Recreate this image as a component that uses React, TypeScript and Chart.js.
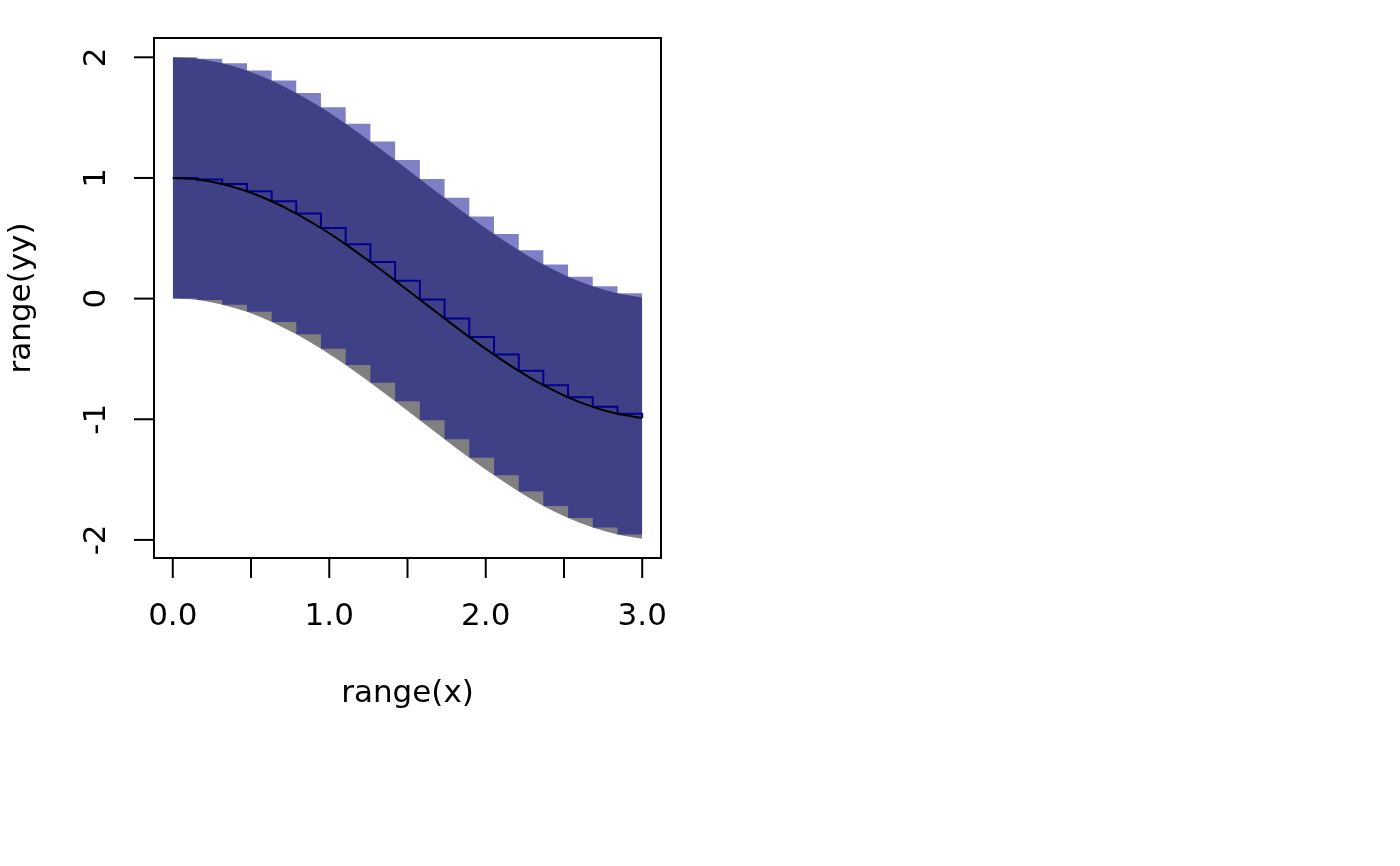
import React, { useEffect, useRef } from 'react';
import { Chart, registerables } from 'chart.js';

Chart.register(...registerables);

// sample positions (20 points from 0 to 3)
const xs = [0, 0.158, 0.316, 0.474, 0.632, 0.789, 0.947, 1.105, 1.263, 1.421,
  1.579, 1.737, 1.895, 2.053, 2.211, 2.368, 2.526, 2.684, 2.842, 3.0];
// centre curve values
const yMid = [1.0, 0.988, 0.95, 0.89, 0.807, 0.705, 0.585, 0.45, 0.303, 0.149,
  -0.008, -0.165, -0.319, -0.464, -0.599, -0.718, -0.818, -0.897, -0.955, -0.99];
const yUpper = [2.0, 1.988, 1.95, 1.89, 1.807, 1.705, 1.585, 1.45, 1.303, 1.149,
  0.992, 0.835, 0.681, 0.536, 0.401, 0.282, 0.182, 0.103, 0.045, 0.01];
const yLower = [0.0, -0.012, -0.05, -0.11, -0.193, -0.295, -0.415, -0.55, -0.697, -0.851,
  -1.008, -1.165, -1.319, -1.464, -1.599, -1.718, -1.818, -1.897, -1.955, -1.99];

const xTicks = [0, 0.5, 1, 1.5, 2, 2.5, 3];
const xTickLabels = ['0.0', '', '1.0', '', '2.0', '', '3.0'];
const yTicks = [-2, -1, 0, 1, 2];
const yTickLabels = ['-2', '-1', '0', '1', '2'];

const FONT = '"DejaVu Sans", sans-serif';

const pts = (ys: number[]) => xs.map((x, i) => ({ x, y: ys[i] }));

const rAxes = {
  id: 'rAxes',
  afterDraw(chart: any) {
    const { ctx, chartArea: a, scales } = chart;
    const sx = scales.x;
    const sy = scales.y;
    ctx.save();
    ctx.strokeStyle = '#000';
    ctx.lineWidth = 2;
    ctx.strokeRect(a.left, a.top, a.right - a.left, a.bottom - a.top);
    ctx.fillStyle = '#000';
    ctx.font = `31px ${FONT}`;
    ctx.textAlign = 'center';
    ctx.textBaseline = 'middle';
    xTicks.forEach((v, i) => {
      const px = sx.getPixelForValue(v);
      ctx.beginPath();
      ctx.moveTo(px, a.bottom);
      ctx.lineTo(px, a.bottom + 20);
      ctx.stroke();
      if (xTickLabels[i]) ctx.fillText(xTickLabels[i], px, a.bottom + 59);
    });
    yTicks.forEach((v, i) => {
      const py = sy.getPixelForValue(v);
      ctx.beginPath();
      ctx.moveTo(a.left, py);
      ctx.lineTo(a.left - 20, py);
      ctx.stroke();
      ctx.save();
      ctx.translate(a.left - 57, py);
      ctx.rotate(-Math.PI / 2);
      ctx.fillText(yTickLabels[i], 0, 0);
      ctx.restore();
    });
    ctx.fillText('range(x)', (a.left + a.right) / 2, a.bottom + 136);
    ctx.save();
    ctx.translate(a.left - 132, (a.top + a.bottom) / 2);
    ctx.rotate(-Math.PI / 2);
    ctx.fillText('range(yy)', 0, 0);
    ctx.restore();
    ctx.restore();
  },
};

const App: React.FC = () => {
  const chartRef = useRef<HTMLCanvasElement>(null);

  useEffect(() => {
    if (!chartRef.current) return;
    const chart = new Chart(chartRef.current, {
      type: 'line',
      data: {
        datasets: [
          {
            data: pts(yMid),
            borderColor: '#000',
            borderWidth: 2,
            pointRadius: 0,
            cubicInterpolationMode: 'monotone',
            fill: false,
          },
          {
            data: pts(yMid),
            borderColor: '#00008b',
            borderWidth: 2,
            pointRadius: 0,
            stepped: 'before',
            fill: false,
          },
          {
            data: pts(yUpper),
            borderWidth: 0,
            borderColor: 'rgba(0,0,0,0)',
            pointRadius: 0,
            stepped: 'before',
            backgroundColor: 'rgba(0,0,139,0.5)',
            fill: '+1',
          },
          {
            data: pts(yLower),
            borderWidth: 0,
            borderColor: 'rgba(0,0,0,0)',
            pointRadius: 0,
            stepped: 'before',
            fill: false,
          },
          {
            data: pts(yUpper),
            borderWidth: 0,
            borderColor: 'rgba(0,0,0,0)',
            pointRadius: 0,
            cubicInterpolationMode: 'monotone',
            backgroundColor: '#808080',
            fill: '+1',
          },
          {
            data: pts(yLower),
            borderWidth: 0,
            borderColor: 'rgba(0,0,0,0)',
            pointRadius: 0,
            cubicInterpolationMode: 'monotone',
            fill: false,
          },
        ],
      },
      options: {
        animation: false,
        responsive: true,
        maintainAspectRatio: false,
        layout: { padding: { left: 154, top: 38, right: 739, bottom: 308 } },
        plugins: { legend: { display: false }, tooltip: { enabled: false } },
        scales: {
          x: { type: 'linear', min: -0.12, max: 3.12, display: false },
          y: { type: 'linear', min: -2.15, max: 2.16, display: false },
        },
      },
      plugins: [rAxes],
    });
    return () => {
      chart.destroy();
    };
  }, []);

  return (
    <div style={{ position: 'fixed', left: 0, top: 0, width: 1400, height: 866, background: '#fff' }}>
      <canvas ref={chartRef} />
    </div>
  );
};

export default App;
